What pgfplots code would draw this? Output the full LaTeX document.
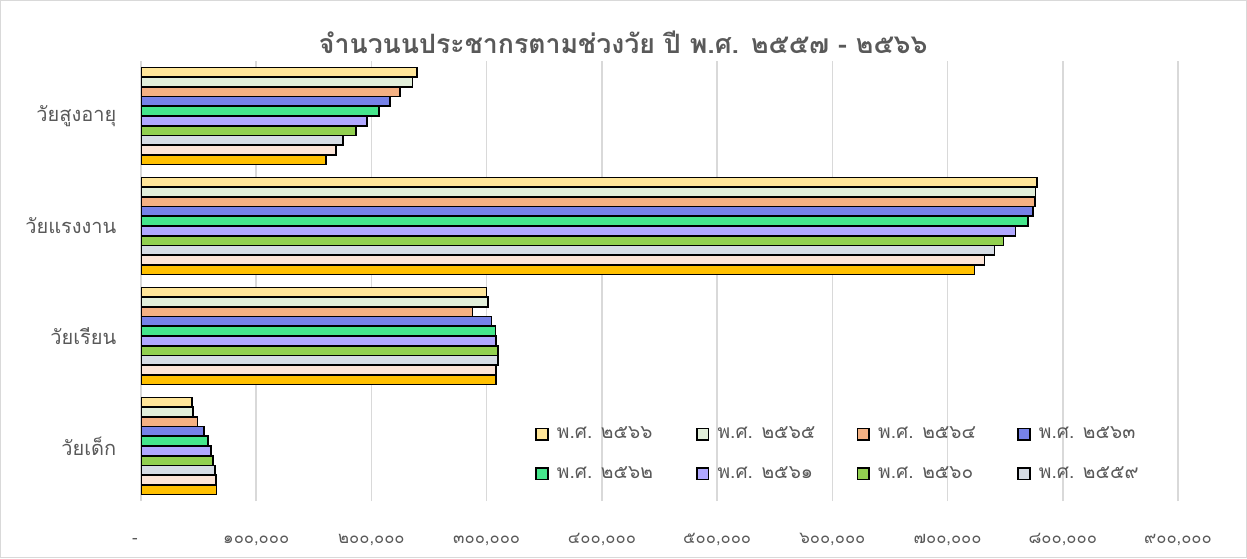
\documentclass[border=0pt]{standalone}
\usepackage{pgfplots}
\pgfplotsset{compat=1.18}
\usepackage{fontspec}
\setmainfont{Loma}[Script=Thai]
\definecolor{c66}{HTML}{FFE699}
\definecolor{c65}{HTML}{E2EFDA}
\definecolor{c64}{HTML}{F4B183}
\definecolor{c63}{HTML}{7682E8}
\definecolor{c62}{HTML}{45E68C}
\definecolor{c61}{HTML}{B0A8FF}
\definecolor{c60}{HTML}{92D050}
\definecolor{c59}{HTML}{D6DCE4}
\definecolor{c58}{HTML}{FCE4D6}
\definecolor{c57}{HTML}{FFC000}
\definecolor{txt}{HTML}{595959}
\definecolor{gridgray}{HTML}{D9D9D9}
\begin{document}
\begin{tikzpicture}
\useasboundingbox (0pt,0pt) rectangle (748.2pt,334.8pt);
\draw[gridgray, line width=0.6pt] (0.3pt,0.3pt) rectangle (747.9pt,334.5pt);
\begin{axis}[
  at={(84.6pt,34.2pt)}, anchor=south west,
  scale only axis, width=622.2pt, height=264pt,
  xbar, bar width=5.82pt,
  xmin=0, xmax=900000, ymin=-0.5, ymax=3.5,
  ytick={0,1,2,3},
  yticklabels={วัยเด็ก,วัยเรียน,วัยแรงงาน,วัยสูงอายุ},
  xtick={0,100000,200000,300000,400000,500000,600000,700000,800000,900000},
  xticklabels={{\llap{-\hspace{2pt}}},{๑๐๐,๐๐๐},{๒๐๐,๐๐๐},{๓๐๐,๐๐๐},{๔๐๐,๐๐๐},{๕๐๐,๐๐๐},{๖๐๐,๐๐๐},{๗๐๐,๐๐๐},{๘๐๐,๐๐๐},{๙๐๐,๐๐๐}},
  scaled x ticks=false,
  xmajorgrids, grid style={gridgray, line width=0.9pt},
  axis line style={draw=none}, tick style={draw=none},
  xticklabel style={font=\fontsize{10}{12}\selectfont, color=txt, yshift=-14pt, anchor=north, text height=8pt, text depth=2pt},
  yticklabel style={font=\fontsize{12}{14}\selectfont, color=txt, xshift=-7pt},
  title={จำนวนนประชากรตามช่วงวัย ปี พ.ศ. ๒๕๕๗ - ๒๕๖๖},
  title style={at={(0.465,1.02)}, anchor=center, font=\bfseries\fontsize{16}{18}\selectfont, color=txt},
  every axis plot/.append style={draw=black, line width=1pt},
  legend image code/.code={\draw[#1, line width=1pt] (0pt,-3.5pt) rectangle (7pt,3.5pt);},
  legend style={at={(0.375,0.184)}, anchor=north west, draw=none, fill=none,
    legend columns=4, font=\fontsize{11.5}{13}\selectfont\color{txt},
    row sep=11pt},
  legend cell align=left,
]
\addplot[fill=c66, bar shift=26.19pt] coordinates {(44500,0) (299800,1) (777400,2) (239600,3)};
\addlegendentry{\makebox[84.4pt][l]{\hspace{3pt}พ.ศ. ๒๕๖๖}}
\addplot[fill=c65, bar shift=20.37pt] coordinates {(45400,0) (301000,1) (776200,2) (235500,3)};
\addlegendentry{\makebox[84.4pt][l]{\hspace{3pt}พ.ศ. ๒๕๖๕}}
\addplot[fill=c64, bar shift=14.55pt] coordinates {(48900,0) (287700,1) (776000,2) (224600,3)};
\addlegendentry{\makebox[84.4pt][l]{\hspace{3pt}พ.ศ. ๒๕๖๔}}
\addplot[fill=c63, bar shift=8.73pt] coordinates {(54400,0) (304100,1) (774000,2) (216000,3)};
\addlegendentry{\makebox[84.4pt][l]{\hspace{3pt}พ.ศ. ๒๕๖๓}}
\addplot[fill=c62, bar shift=2.91pt] coordinates {(58100,0) (307600,1) (769900,2) (206700,3)};
\addlegendentry{\makebox[84.4pt][l]{\hspace{3pt}พ.ศ. ๒๕๖๒}}
\addplot[fill=c61, bar shift=-2.91pt] coordinates {(60700,0) (308200,1) (758900,2) (196000,3)};
\addlegendentry{\makebox[84.4pt][l]{\hspace{3pt}พ.ศ. ๒๕๖๑}}
\addplot[fill=c60, bar shift=-8.73pt] coordinates {(62700,0) (309600,1) (748500,2) (186500,3)};
\addlegendentry{\makebox[84.4pt][l]{\hspace{3pt}พ.ศ. ๒๕๖๐}}
\addplot[fill=c59, bar shift=-14.55pt] coordinates {(64400,0) (309600,1) (740700,2) (175500,3)};
\addlegendentry{\makebox[84.4pt][l]{\hspace{3pt}พ.ศ. ๒๕๕๙}}
\addplot[fill=c58, bar shift=-20.37pt, forget plot] coordinates {(65000,0) (308200,1) (732000,2) (169000,3)};
\addplot[fill=c57, bar shift=-26.19pt, forget plot] coordinates {(65500,0) (308000,1) (723300,2) (160400,3)};
\end{axis}
\end{tikzpicture}
\end{document}
